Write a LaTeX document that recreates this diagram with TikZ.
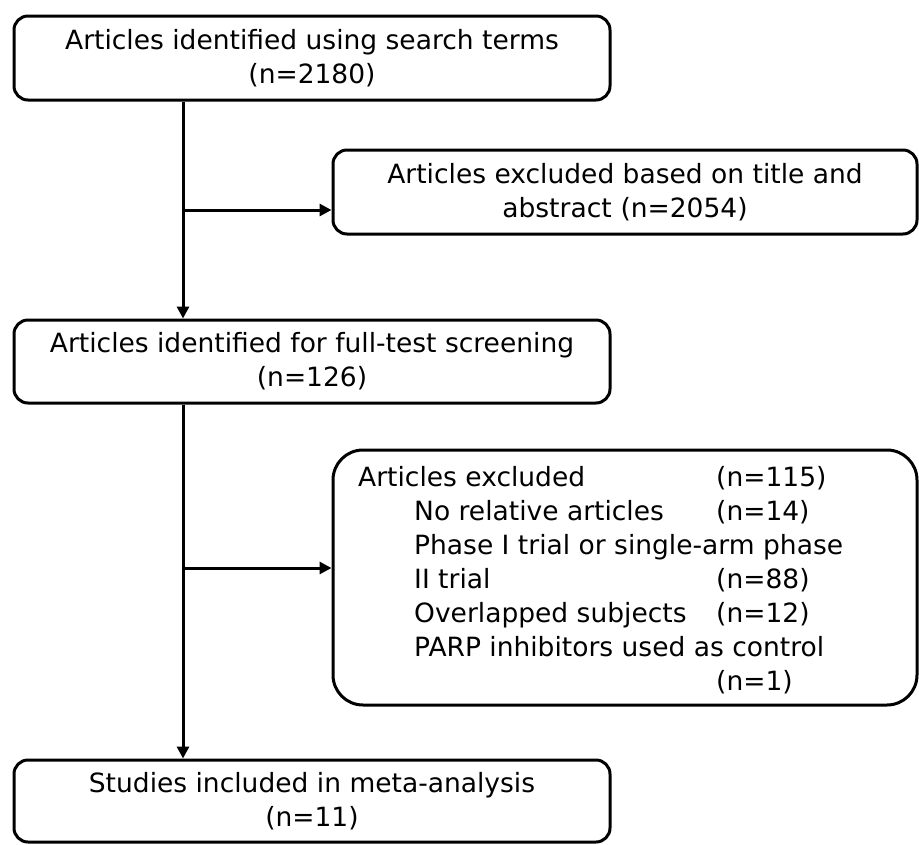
\documentclass[tikz,border=0pt]{standalone}
\usepackage{fontspec}
\setmainfont{DejaVu Sans}
\usetikzlibrary{arrows.meta}
\newcommand{\exrow}[2]{\makebox[358pt][l]{#1}#2}
\begin{document}
\begin{tikzpicture}[x=1pt,y=-1pt,
  box/.style={draw=black,line width=3pt,rounded corners=14pt,fill=white,
    font=\fontsize{26.5}{34}\selectfont,align=center,inner sep=0pt},
  arr/.style={line width=3pt,-{Triangle[length=12pt,width=12pt]}},
  ln/.style={line width=3pt}]
\useasboundingbox (0,0) rectangle (919,844);
\node[box,minimum width=596pt,minimum height=84pt] (b1) at (312,58)
  {Articles identified using search terms\\(n=2180)};
\node[box,minimum width=584pt,minimum height=84pt] (b2) at (625,192)
  {Articles excluded based on title and\\abstract\,\,(n=2054)};
\node[box,minimum width=596pt,minimum height=83pt] (b3) at (312,361.5)
  {Articles identified for full-test screening\\(n=126)};
\node[box,rounded corners=30pt,minimum width=584pt,minimum height=255pt] (b4) at (625,577.5) {};
\node[anchor=north west,inner sep=0pt,align=left,font=\fontsize{26.5}{34}\selectfont] (t4) at (358,466)
  {\exrow{Articles excluded}{(n=115)}\\
   \exrow{\hspace*{56pt}No relative articles}{(n=14)}\\
   \hspace*{56pt}Phase I trial or single-arm phase\\
   \exrow{\hspace*{56pt}II trial}{(n=88)}\\
   \exrow{\hspace*{56pt}Overlapped subjects}{(n=12)}\\
   \hspace*{56pt}PARP inhibitors used as control\\
   \exrow{}{(n=1)}};
\node[box,minimum width=596pt,minimum height=82pt] (b5) at (312,801)
  {Studies included in meta-analysis\\(n=11)};
\coordinate (j1) at (183,210);
\coordinate (j2) at (183,568);
\draw[arr] (b1.south -| j1) -- (b3.north -| j1);
\draw[arr] (j1) -- (j1 -| b2.west);
\draw[arr] (b3.south -| j2) -- (b5.north -| j2);
\draw[arr] (j2) -- (j2 -| b4.west);
\end{tikzpicture}
\end{document}
